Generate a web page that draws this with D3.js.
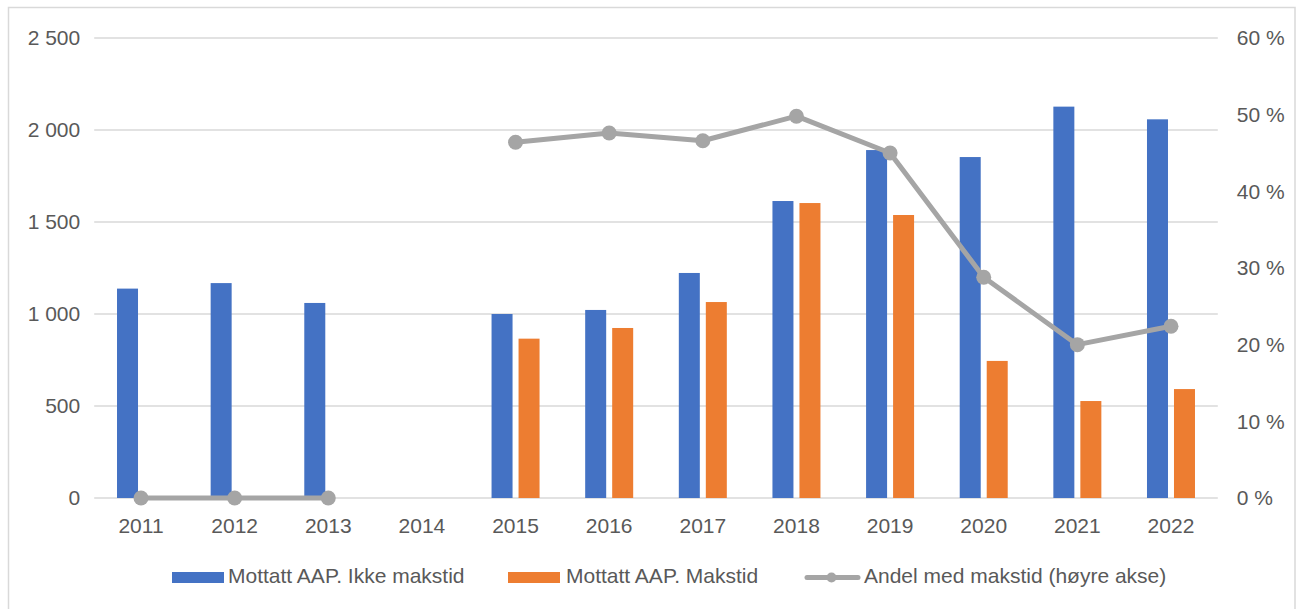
<!DOCTYPE html>
<html><head><meta charset="utf-8">
<script src="https://cdn.jsdelivr.net/npm/d3@7"></script>
<style>body{margin:0;background:#fff}svg{display:block}</style>
</head><body>
<svg id="c" width="1296" height="609"></svg>
<script>
const years = ["2011","2012","2013","2014","2015","2016","2017","2018","2019","2020","2021","2022"];
const ikkeMakstid = [1138, 1168, 1060, null, 1000, 1022, 1223, 1614, 1891, 1853, 2127, 2058];
const makstid = [null, null, null, null, 866, 924, 1065, 1603, 1538, 745, 527, 592];
const andel = [0, 0, 0, null, 46.4, 47.6, 46.6, 49.8, 45.0, 28.8, 20.0, 22.4];
const leftTicks = [0, 500, 1000, 1500, 2000, 2500];
const rightTicks = [0, 10, 20, 30, 40, 50, 60];
const seriesNames = ["Mottatt AAP. Ikke makstid", "Mottatt AAP. Makstid", "Andel med makstid (høyre akse)"];
const colors = ["#4472c4", "#ed7d31", "#a5a5a5"];

const svg = d3.select("#c");
const font = "Liberation Sans, Arial, sans-serif";
const txt = "#595959";
const fs = 21;
svg.append("rect").attr("x",8.5).attr("y",7.5).attr("width",1286.5).attr("height",620)
  .attr("fill","#fff").attr("stroke","#d9d9d9").attr("stroke-width",1.5);

const L = 94.2, R = 1217.8, T = 38, B = 498;
const x = d3.scaleBand().domain(years).range([L, R]);
const yL = d3.scaleLinear().domain([0, 2500]).range([B, T]);
const yR = d3.scaleLinear().domain([0, 60]).range([B, T]);

// gridlines
svg.append("g").selectAll("line").data(leftTicks).join("line")
  .attr("x1", L).attr("x2", R).attr("y1", d => yL(d)).attr("y2", d => yL(d))
  .attr("stroke", "#d9d9d9").attr("stroke-width", 1.5);

// left axis
const fmt = d => d3.format(",")(d).replace(/,/g, " ");
const axL = svg.append("g").attr("transform", `translate(${L},0)`)
  .call(d3.axisLeft(yL).tickValues(leftTicks).tickFormat(fmt).tickSize(0).tickPadding(14));
axL.select(".domain").remove();
axL.selectAll("text").attr("font-family", font).attr("font-size", fs).attr("fill", txt);

const axR = svg.append("g").attr("transform", `translate(${R},0)`)
  .call(d3.axisRight(yR).tickValues(rightTicks).tickFormat(d => d + " %").tickSize(0).tickPadding(19));
axR.select(".domain").remove();
axR.selectAll("text").attr("font-family", font).attr("font-size", fs).attr("fill", txt);

const axB = svg.append("g").attr("transform", `translate(0,${B})`)
  .call(d3.axisBottom(x).tickSize(0).tickPadding(20));
axB.select(".domain").remove();
axB.selectAll("text").attr("font-family", font).attr("font-size", fs).attr("fill", txt);

// bars
const bw = 21, gap = 6;
const sub = d3.scaleOrdinal().domain([0,1]).range([-(bw + gap/2), gap/2]);
[ikkeMakstid, makstid].forEach((vals, si) => {
  svg.append("g").selectAll("rect").data(years.map((y,i)=>({y, v: vals[i]})).filter(d => d.v != null))
    .join("rect")
    .attr("x", d => x(d.y) + x.bandwidth()/2 + sub(si))
    .attr("width", bw)
    .attr("y", d => yL(d.v)).attr("height", d => B - yL(d.v))
    .attr("fill", colors[si]);
});

// line
const pts = years.map((y,i)=>({y, v: andel[i]}));
const line = d3.line().defined(d => d.v != null)
  .x(d => x(d.y) + x.bandwidth()/2).y(d => yR(d.v));
svg.append("path").datum(pts).attr("d", line).attr("fill","none")
  .attr("stroke", colors[2]).attr("stroke-width", 5).attr("stroke-linejoin","round").attr("stroke-linecap","round");
svg.append("g").selectAll("circle").data(pts.filter(d => d.v != null)).join("circle")
  .attr("cx", d => x(d.y) + x.bandwidth()/2).attr("cy", d => yR(d.v)).attr("r", 7.5)
  .attr("fill", colors[2]);

// legend
const lg = svg.append("g");
const base = 583;
lg.append("rect").attr("x",172).attr("y",572).attr("width",52).attr("height",11).attr("fill",colors[0]);
lg.append("text").attr("x",228).attr("y",base).text(seriesNames[0]);
lg.append("rect").attr("x",508).attr("y",572).attr("width",52).attr("height",11).attr("fill",colors[1]);
lg.append("text").attr("x",566).attr("y",base).text(seriesNames[1]);
lg.append("line").attr("x1",807).attr("x2",858).attr("y1",577.5).attr("y2",577.5)
  .attr("stroke",colors[2]).attr("stroke-width",5).attr("stroke-linecap","round");
lg.append("circle").attr("cx",831.5).attr("cy",577.5).attr("r",5).attr("fill",colors[2]);
lg.append("text").attr("x",864).attr("y",base).text(seriesNames[2]);
lg.selectAll("text").attr("font-family", font).attr("font-size", fs).attr("fill", txt);
</script>
</body></html>
